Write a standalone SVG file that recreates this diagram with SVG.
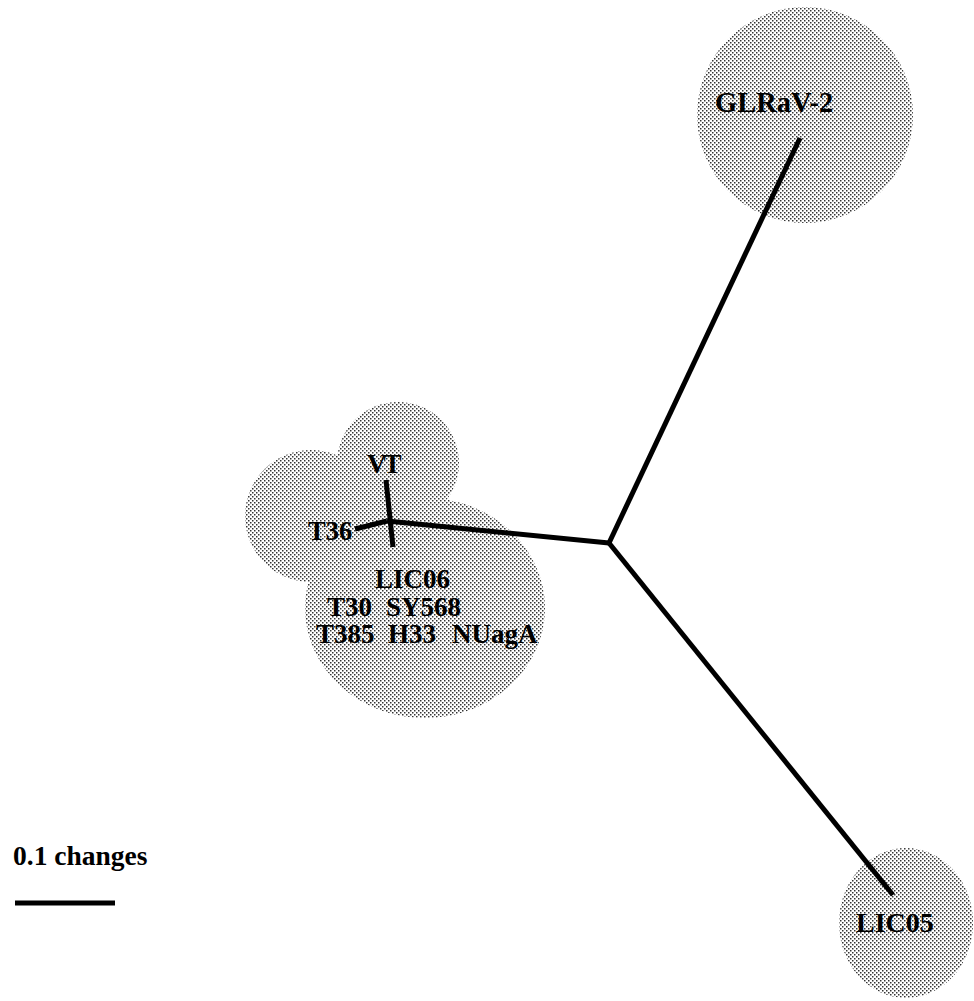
<svg xmlns="http://www.w3.org/2000/svg" width="974" height="1001" viewBox="0 0 974 1001">
  <defs>
    <pattern id="dots" width="4" height="4" patternUnits="userSpaceOnUse">
      <rect x="0" y="0" width="1.5" height="1.5" fill="#333"/>
      <rect x="2" y="2" width="1.5" height="1.5" fill="#333"/>
    </pattern>
  </defs>
  <style>
    .blob { fill: url(#dots); fill-rule: nonzero; }
    .lbl { font-family: "Liberation Serif", "Times New Roman", serif; font-weight: bold; font-size: 27px; fill: #000; }
    .edge { stroke: #000; stroke-width: 5; fill: none; stroke-linecap: butt; }
  </style>
  <rect width="974" height="1001" fill="#fff"/>

  <!-- shaded groupings, each region drawn as one union path -->
  <g id="shading">
    <path class="blob" d="M697,115 a108,108 0 1,0 216,0 a108,108 0 1,0 -216,0 Z"/>
    <path class="blob" d="M839,923 a67,75 0 1,0 134,0 a67,75 0 1,0 -134,0 Z"/>
    <path class="blob" d="M337,463 a61,61 0 1,0 122,0 a61,61 0 1,0 -122,0 Z
                          M245,516 a66,66 0 1,0 132,0 a66,66 0 1,0 -132,0 Z
                          M305,608 a120,110 0 1,0 240,0 a120,110 0 1,0 -240,0 Z"/>
  </g>

  <!-- tree branches -->
  <g id="connectors">
    <line class="edge" x1="387" y1="521" x2="609" y2="543"/>
    <line class="edge" x1="609" y1="543" x2="800" y2="138"/>
    <line class="edge" x1="609" y1="543" x2="893" y2="895"/>
    <line class="edge" x1="386" y1="480" x2="393" y2="547"/>
    <line class="edge" x1="355" y1="529" x2="387" y2="521"/>
  </g>

  <g id="node-glrav2"><text class="lbl" x="715" y="112" style="font-size:28.5px">GLRaV-2</text></g>
  <g id="node-lic05"><text class="lbl" x="856" y="932" style="font-size:28px">LIC05</text></g>
  <g id="node-vt"><text class="lbl" x="367" y="473" style="letter-spacing:-3px">VT</text></g>
  <g id="node-t36"><text class="lbl" x="308" y="540" style="font-size:26.5px">T36</text></g>
  <g id="node-cluster">
    <text class="lbl" x="375" y="588">LIC06</text>
    <text class="lbl" x="327" y="616">T30</text>
    <text class="lbl" x="386" y="616">SY568</text>
    <text class="lbl" x="316" y="643">T385</text>
    <text class="lbl" x="388" y="643">H33</text>
    <text class="lbl" x="452" y="643">NUagA</text>
  </g>

  <!-- scale -->
  <g id="scale">
    <text class="lbl" x="13" y="865" style="font-size:27.5px">0.1 changes</text>
    <line class="edge" x1="15" y1="903" x2="115" y2="903"/>
  </g>
</svg>
